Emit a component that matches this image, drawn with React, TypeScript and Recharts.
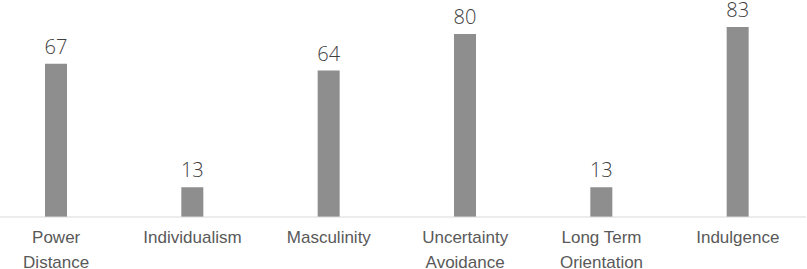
import { BarChart, Bar, XAxis, YAxis, LabelList, Text } from "recharts";

const dimensions = [
  "Power Distance",
  "Individualism",
  "Masculinity",
  "Uncertainty Avoidance",
  "Long Term Orientation",
  "Indulgence",
];
const scores = [67, 13, 64, 80, 13, 83];

const data = dimensions.map((name, i) => ({ name, score: scores[i] }));

function CategoryTick(props: any) {
  const { x, y, payload } = props;
  return (
    <Text
      x={x}
      y={y}
      width={100}
      lineHeight={25}
      textAnchor="middle"
      verticalAnchor="start"
      fontSize={17}
      fontFamily="Liberation Sans, Arial, sans-serif"
      fill="#595959"
    >
      {payload.value}
    </Text>
  );
}

export default function App() {
  return (
    <div style={{ position: "absolute", left: -12, top: 0 }}>
      <BarChart
        width={818}
        height={269}
        data={data}
        margin={{ top: 11, right: 0, bottom: 0, left: 0 }}
      >
        <XAxis
          dataKey="name"
          height={52}
          interval={0}
          tickLine={false}
          tickSize={6}
          tickMargin={8}
          axisLine={{ stroke: "#d9d9d9", strokeWidth: 1 }}
          tick={<CategoryTick />}
        />
        <YAxis hide domain={[0, 90]} />
        <Bar dataKey="score" fill="#8e8e8e" barSize={22} isAnimationActive={false}>
          <LabelList
            dataKey="score"
            position="top"
            offset={10}
            fill="#404040"
            fontSize={20}
            fontFamily="Open Sans, sans-serif"
            fontWeight={300}
          />
        </Bar>
      </BarChart>
    </div>
  );
}
